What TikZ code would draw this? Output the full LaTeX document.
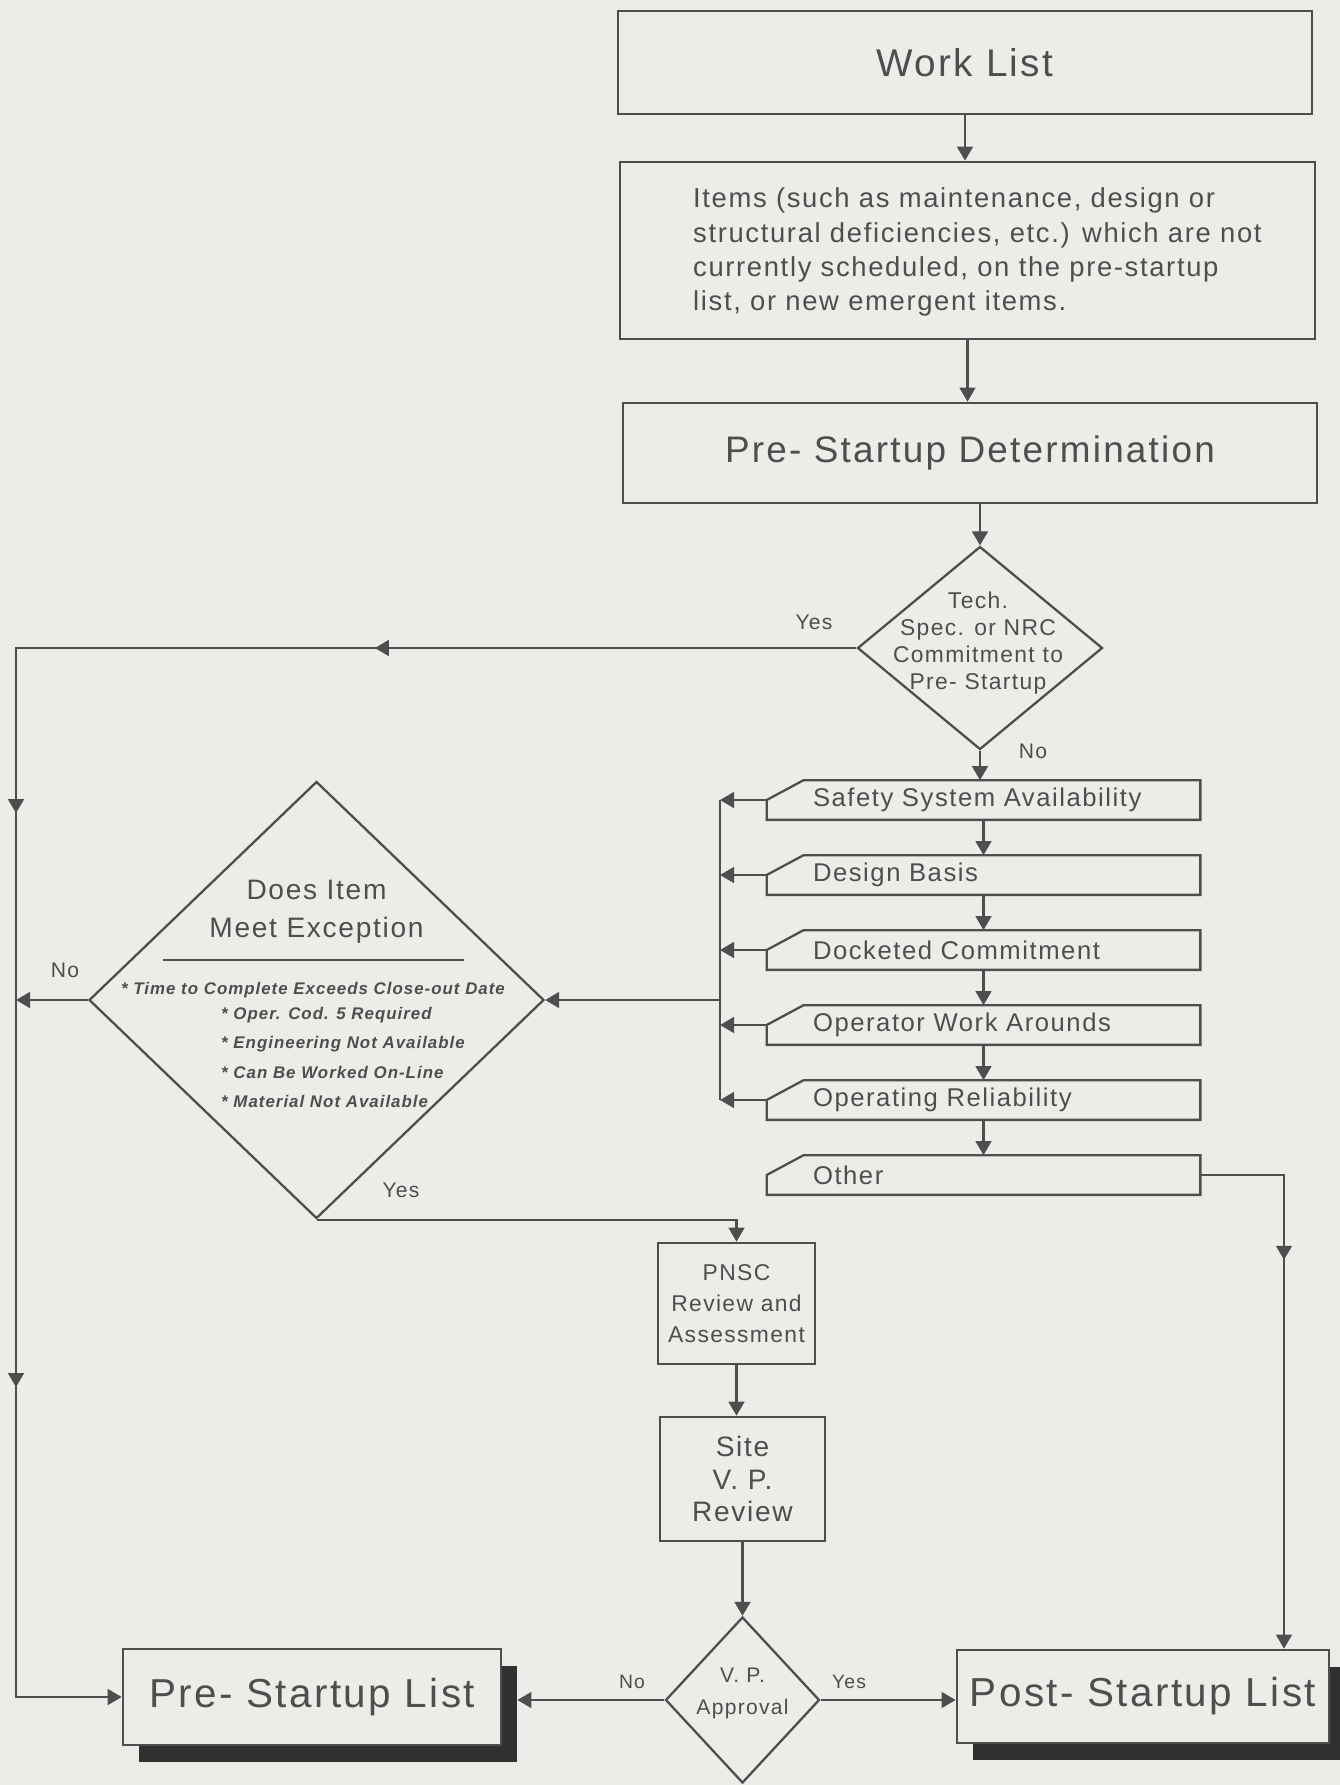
\documentclass[tikz,border=0pt]{standalone}
\usepackage{fontspec}
\setmainfont{Liberation Sans}[LetterSpace=6]
\usetikzlibrary{shapes.geometric,arrows.meta,decorations.markings}

\definecolor{paper}{RGB}{236,236,233}
\definecolor{ink}{RGB}{78,78,78}
\definecolor{shade}{RGB}{48,48,48}

\tikzset{
  box/.style={rectangle, draw=ink, line width=1.5pt, text=ink},
  decision/.style={diamond, draw=ink, line width=1.3pt, inner sep=0pt},
  cat/.style={rectangle, minimum height=0.78cm, inner xsep=0.92cm, inner ysep=0pt,
    text width=6.82cm, align=left, text=ink, font=\fontsize{14.6}{16}\selectfont},
  txt/.style={text=ink, align=center},
  lbl/.style={text=ink, font=\fontsize{12}{14}\selectfont},
  wire/.style={draw=ink, line width=1.3pt},
  flow/.style={wire, -{Triangle[width=9pt,length=8pt]}},
  midarrow/.style={postaction={decorate, decoration={markings,
    mark=at position #1 with {\arrow{Triangle[width=9pt,length=8pt]}}}}},
}

\begin{document}
\begin{tikzpicture}[color=ink]
    % Frame
    \useasboundingbox (0,0) rectangle (26.8,-35.7);
    \fill[paper] (0,0) rectangle (26.8,-35.7);
    % Nodes
    \node[box, minimum width=13.88cm, minimum height=2.06cm, font=\fontsize{22}{26}\selectfont] (work) at (19.30,-1.25) {Work List};
    \node[box, minimum width=13.9cm, minimum height=3.54cm] (items) at (19.35,-5.01) {};
    \node[anchor=west, align=left, text=ink, font=\fontsize{15.6}{19.4}\selectfont] (itemstext) at (13.74,-5.04)
        {Items (such as maintenance, design or\\structural deficiencies, etc.) which are not\\currently scheduled, on the pre-startup\\list, or new emergent items.};
    \node[box, minimum width=13.88cm, minimum height=2.0cm, font=\fontsize{21}{25}\selectfont] (psd) at (19.40,-9.06) {Pre- Startup Determination};
    \node[decision, minimum width=4.9cm, minimum height=4.06cm] (tech) at (19.6,-12.96) {};
    \node[txt, font=\fontsize{13}{15.5}\selectfont] (techtext) at (19.56,-12.86) {Tech.\\Spec. or NRC\\Commitment to\\Pre- Startup};
    \node[cat] (safety) at (19.67,-16.0) {Safety System Availability};
    \node[cat] (design) at (19.67,-17.5) {Design Basis};
    \node[cat] (docket) at (19.67,-19.0) {Docketed Commitment};
    \node[cat] (workaround) at (19.67,-20.5) {Operator Work Arounds};
    \node[cat] (reliab) at (19.67,-22.0) {Operating Reliability};
    \node[cat] (other) at (19.67,-23.5) {Other};
    \node[decision, minimum width=9.1cm, minimum height=8.74cm] (exc) at (6.33,-20.0) {};
    \node[txt, font=\fontsize{16}{21.6}\selectfont] (exctitle) at (6.33,-18.24) {Does Item\\Meet Exception};
    \node[txt, font=\fontsize{9.6}{11}\selectfont\bfseries\itshape] (excfirst) at (6.26,-19.8) {* Time to Complete Exceeds Close-out Date};
    \node[anchor=west, align=left, text=ink, font=\fontsize{9.6}{16.8}\selectfont\bfseries\itshape] (exclist) at (4.3,-21.15)
        {* Oper. Cod. 5 Required\\* Engineering Not Available\\* Can Be Worked On-Line\\* Material Not Available};
    \node[box, minimum width=3.14cm, minimum height=2.42cm, align=center, font=\fontsize{13}{17.5}\selectfont] (pnsc) at (14.73,-26.07) {PNSC\\Review and\\Assessment};
    \node[box, minimum width=3.3cm, minimum height=2.48cm, align=center, font=\fontsize{16}{18.5}\selectfont] (site) at (14.85,-29.58) {Site\\V. P.\\Review};
    \node[decision, minimum width=3.08cm, minimum height=3.32cm] (vp) at (14.85,-34.0) {};
    \node[txt, font=\fontsize{12}{18}\selectfont] (vptext) at (14.85,-33.87) {V. P.\\Approval};
    \node[fill=shade, minimum width=7.56cm, minimum height=1.92cm] (preshadow) at (6.56,-34.28) {};
    \node[box, fill=paper, minimum width=7.56cm, minimum height=1.92cm, font=\fontsize{23}{27}\selectfont] (prelist) at (6.24,-33.94) {Pre- Startup List};
    \node[fill=shade, minimum width=7.44cm, minimum height=1.86cm] (postshadow) at (23.18,-34.27) {};
    \node[box, fill=paper, minimum width=7.44cm, minimum height=1.86cm, font=\fontsize{23}{27}\selectfont] (postlist) at (22.86,-33.93) {Post- Startup List};
    % Labels
    \node[lbl] (yestech) at (16.28,-12.44) {Yes};
    \node[lbl] (notech) at (20.66,-15.02) {No};
    \node[lbl] (noexc) at (1.3,-19.4) {No};
    \node[lbl] (yesexc) at (8.02,-23.8) {Yes};
    \node[lbl, font=\fontsize{11}{13}\selectfont] (novp) at (12.64,-33.64) {No};
    \node[lbl, font=\fontsize{11}{13}\selectfont] (yesvp) at (16.98,-33.64) {Yes};
    % Corners
    \coordinate (ytop) at (0.32,-12.96);
    \coordinate (ybot) at (0.32,-33.94);
    \coordinate (bustop) at (14.4,-16.0);
    \coordinate (busbot) at (14.4,-22.0);
    \coordinate (otherturn) at (25.68,-23.5);
    % Category outlines
    \foreach \c in {safety,design,docket,workaround,reliab,other}
        \draw[wire] (\c.south west) -- (\c.west) -- ([xshift=0.74cm]\c.north west) -- (\c.north east) -- (\c.south east) -- cycle;
    \draw[line width=1.2pt] (3.26,-19.2) -- (9.28,-19.2);
    % Edges
    \draw[flow] (work.south) -- (work.south |- items.north);
    \draw[flow] (items.south) -- (items.south |- psd.north);
    \draw[flow] (psd.south -| tech.north) -- (tech.north);
    \draw[flow] (tech.south) -- (tech.south |- safety.north);
    \foreach \a/\b in {safety/design, design/docket, docket/workaround, workaround/reliab, reliab/other}
        \draw[flow] (\a.south) -- (\b.north);
    \draw[flow, midarrow=9.63cm, midarrow=20.11cm, midarrow=31.59cm] (tech.west) -- (ytop) -- (ybot) -- (prelist.west);
    \draw[wire] (bustop) -- (busbot);
    \foreach \c in {safety,design,docket,workaround,reliab}
        \draw[flow] (\c.west) -- (\c.west -| bustop);
    \draw[flow] (exc.east -| bustop) -- (exc.east);
    \draw[flow] (exc.west) -- (exc.west -| ytop);
    \draw[flow] (exc.south) -- (exc.south -| pnsc.north) -- (pnsc.north);
    \draw[flow] (pnsc.south) -- (pnsc.south |- site.north);
    \draw[flow] (site.south) -- (vp.north);
    \draw[flow] (vp.west) -- (vp.west -| preshadow.east);
    \draw[flow] (vp.east) -- (vp.east -| postlist.west);
    \draw[flow, midarrow=3.37cm] (other.east) -- (otherturn) -- (otherturn |- postlist.north);
\end{tikzpicture}
\end{document}
